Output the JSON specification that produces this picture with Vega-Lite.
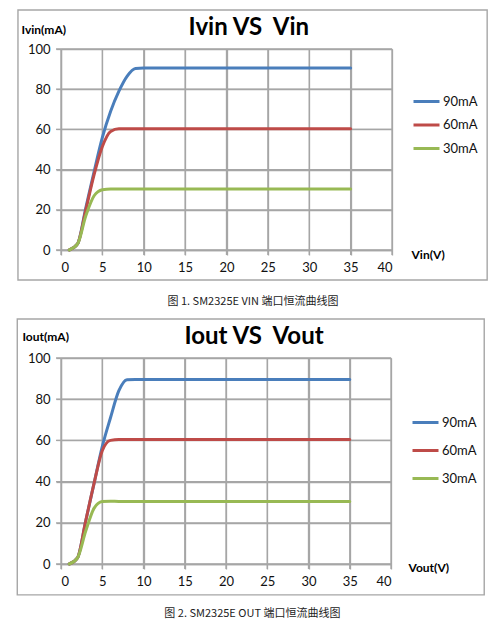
{
  "$schema": "https://vega.github.io/schema/vega-lite/v6.json",
  "padding": {"left": 16, "top": 9, "right": 5, "bottom": 5},
  "spacing": 10,
  "datasets": {
    "gx": [{"v": 0}, {"v": 5}, {"v": 10}, {"v": 15}, {"v": 20}, {"v": 25}, {"v": 30}, {"v": 35}, {"v": 40}],
    "gy": [{"i": 0}, {"i": 20}, {"i": 40}, {"i": 60}, {"i": 80}, {"i": 100}],
    "vin": [
      {"series": "90mA", "v": 1, "i": 0}, {"series": "90mA", "v": 2, "i": 3}, {"series": "90mA", "v": 3, "i": 21},
      {"series": "90mA", "v": 4, "i": 39}, {"series": "90mA", "v": 5, "i": 56}, {"series": "90mA", "v": 6, "i": 69},
      {"series": "90mA", "v": 7, "i": 79}, {"series": "90mA", "v": 8, "i": 86.5}, {"series": "90mA", "v": 9, "i": 90.3},
      {"series": "90mA", "v": 10, "i": 90.5}, {"series": "90mA", "v": 15, "i": 90.5}, {"series": "90mA", "v": 20, "i": 90.5},
      {"series": "90mA", "v": 25, "i": 90.5}, {"series": "90mA", "v": 30, "i": 90.5}, {"series": "90mA", "v": 35, "i": 90.5},
      {"series": "60mA", "v": 1, "i": 0}, {"series": "60mA", "v": 2, "i": 3}, {"series": "60mA", "v": 3, "i": 20},
      {"series": "60mA", "v": 4, "i": 37.5}, {"series": "60mA", "v": 5, "i": 51.5}, {"series": "60mA", "v": 6, "i": 59},
      {"series": "60mA", "v": 7, "i": 60.3}, {"series": "60mA", "v": 8, "i": 60.3}, {"series": "60mA", "v": 10, "i": 60.3},
      {"series": "60mA", "v": 15, "i": 60.3}, {"series": "60mA", "v": 20, "i": 60.3}, {"series": "60mA", "v": 25, "i": 60.3},
      {"series": "60mA", "v": 30, "i": 60.3}, {"series": "60mA", "v": 35, "i": 60.3},
      {"series": "30mA", "v": 1, "i": 0}, {"series": "30mA", "v": 2, "i": 3}, {"series": "30mA", "v": 3, "i": 17},
      {"series": "30mA", "v": 4, "i": 27}, {"series": "30mA", "v": 5, "i": 30}, {"series": "30mA", "v": 6, "i": 30.4},
      {"series": "30mA", "v": 7, "i": 30.4}, {"series": "30mA", "v": 10, "i": 30.4}, {"series": "30mA", "v": 15, "i": 30.4},
      {"series": "30mA", "v": 20, "i": 30.4}, {"series": "30mA", "v": 25, "i": 30.4}, {"series": "30mA", "v": 30, "i": 30.4},
      {"series": "30mA", "v": 35, "i": 30.4}
    ],
    "vout": [
      {"series": "90mA", "v": 1, "i": 0}, {"series": "90mA", "v": 2, "i": 3}, {"series": "90mA", "v": 3, "i": 21},
      {"series": "90mA", "v": 4, "i": 39}, {"series": "90mA", "v": 5, "i": 57}, {"series": "90mA", "v": 6, "i": 71},
      {"series": "90mA", "v": 7, "i": 84}, {"series": "90mA", "v": 8, "i": 89.5}, {"series": "90mA", "v": 9, "i": 89.6},
      {"series": "90mA", "v": 10, "i": 89.6}, {"series": "90mA", "v": 15, "i": 89.6}, {"series": "90mA", "v": 20, "i": 89.6},
      {"series": "90mA", "v": 25, "i": 89.6}, {"series": "90mA", "v": 30, "i": 89.6}, {"series": "90mA", "v": 35, "i": 89.6},
      {"series": "60mA", "v": 1, "i": 0}, {"series": "60mA", "v": 2, "i": 3}, {"series": "60mA", "v": 3, "i": 21},
      {"series": "60mA", "v": 4, "i": 39}, {"series": "60mA", "v": 5, "i": 55}, {"series": "60mA", "v": 6, "i": 60},
      {"series": "60mA", "v": 7, "i": 60.4}, {"series": "60mA", "v": 10, "i": 60.4}, {"series": "60mA", "v": 15, "i": 60.4},
      {"series": "60mA", "v": 20, "i": 60.4}, {"series": "60mA", "v": 25, "i": 60.4}, {"series": "60mA", "v": 30, "i": 60.4},
      {"series": "60mA", "v": 35, "i": 60.4},
      {"series": "30mA", "v": 1, "i": 0}, {"series": "30mA", "v": 2, "i": 3}, {"series": "30mA", "v": 3, "i": 16},
      {"series": "30mA", "v": 4, "i": 27}, {"series": "30mA", "v": 5, "i": 30.3}, {"series": "30mA", "v": 6, "i": 30.5},
      {"series": "30mA", "v": 7, "i": 30.4}, {"series": "30mA", "v": 10, "i": 30.4}, {"series": "30mA", "v": 15, "i": 30.4},
      {"series": "30mA", "v": 20, "i": 30.4}, {"series": "30mA", "v": 25, "i": 30.4}, {"series": "30mA", "v": 30, "i": 30.4},
      {"series": "30mA", "v": 35, "i": 30.4}
    ]
  },
  "vconcat": [
    {
      "width": 331,
      "height": 201,
      "layer": [
        {
          "data": {"name": "gx"},
          "mark": {"type": "rect", "filled": false, "color": "#a6a6a6", "strokeWidth": 1.3},
          "encoding": {
            "x": {"field": "v", "type": "quantitative"},
            "x2": {"field": "v"},
            "y": {"datum": -2.5, "type": "quantitative"},
            "y2": {"datum": 100}
          }
        },
        {
          "data": {"name": "gy"},
          "mark": {"type": "rect", "filled": false, "color": "#a6a6a6", "strokeWidth": 1.3},
          "encoding": {
            "y": {"field": "i", "type": "quantitative"},
            "y2": {"field": "i"},
            "x": {"datum": -0.6, "type": "quantitative"},
            "x2": {"datum": 40}
          }
        },
        {
          "data": {"name": "vin"},
          "mark": {"type": "line", "interpolate": "monotone", "strokeWidth": 3, "strokeCap": "round"},
          "encoding": {
            "x": {
              "field": "v", "type": "quantitative",
              "scale": {"domain": [0, 40]},
              "axis": {"grid": true, "values": [0, 5, 10, 15, 20, 25, 30, 35, 40], "title": "Vin(V)", "titleX": 350, "titleY": 4}
            },
            "y": {
              "field": "i", "type": "quantitative",
              "scale": {"domain": [0, 100]},
              "axis": {"grid": true, "values": [0, 20, 40, 60, 80, 100], "title": "Ivin(mA)", "titleX": -40, "titleY": -20}
            },
            "color": {
              "field": "series", "type": "nominal",
              "scale": {"domain": ["90mA", "60mA", "30mA"], "range": ["#4a7ebb", "#be4b48", "#98b954"]},
              "legend": {"title": null, "orient": "none", "legendX": 351, "legendY": 38, "rowPadding": 1.5}
            }
          }
        },
        {
          "data": {"values": [{}]},
          "mark": {"type": "rect", "filled": false, "color": "#a6a6a6", "strokeWidth": 1.4},
          "encoding": {
            "x": {"datum": -5.2, "type": "quantitative"},
            "x2": {"datum": 51.5},
            "y": {"datum": -14.9, "type": "quantitative"},
            "y2": {"datum": 119.4}
          }
        },
        {
          "data": {"values": [{}]},
          "mark": {"type": "text", "fontSize": 24, "fontWeight": "bold", "color": "#000000"},
          "encoding": {
            "x": {"datum": 22.7, "type": "quantitative"},
            "y": {"datum": 110.4, "type": "quantitative"},
            "text": {"value": "Ivin VS \u00a0Vin"}
          }
        },
        {
          "data": {"values": [{}]},
          "mark": {"type": "text", "font": "Noto Sans CJK SC", "fontSize": 11, "color": "#222222"},
          "encoding": {
            "x": {"datum": 23.2, "type": "quantitative"},
            "y": {"datum": -25.9, "type": "quantitative"},
            "text": {"value": "图 1. SM2325E VIN 端口恒流曲线图"}
          }
        }
      ]
    },
    {
      "width": 330,
      "height": 206,
      "layer": [
        {
          "data": {"name": "gx"},
          "mark": {"type": "rect", "filled": false, "color": "#a6a6a6", "strokeWidth": 1.3},
          "encoding": {
            "x": {"field": "v", "type": "quantitative"},
            "x2": {"field": "v"},
            "y": {"datum": -2.4, "type": "quantitative"},
            "y2": {"datum": 100}
          }
        },
        {
          "data": {"name": "gy"},
          "mark": {"type": "rect", "filled": false, "color": "#a6a6a6", "strokeWidth": 1.3},
          "encoding": {
            "y": {"field": "i", "type": "quantitative"},
            "y2": {"field": "i"},
            "x": {"datum": -0.6, "type": "quantitative"},
            "x2": {"datum": 40}
          }
        },
        {
          "data": {"name": "vout"},
          "mark": {"type": "line", "interpolate": "monotone", "strokeWidth": 3, "strokeCap": "round"},
          "encoding": {
            "x": {
              "field": "v", "type": "quantitative",
              "scale": {"domain": [0, 40]},
              "axis": {"grid": true, "values": [0, 5, 10, 15, 20, 25, 30, 35, 40], "title": "Vout(V)", "titleX": 347, "titleY": 3}
            },
            "y": {
              "field": "i", "type": "quantitative",
              "scale": {"domain": [0, 100]},
              "axis": {"grid": true, "values": [0, 20, 40, 60, 80, 100], "title": "Iout(mA)", "titleX": -39, "titleY": -22}
            },
            "color": {
              "field": "series", "type": "nominal",
              "scale": {"domain": ["90mA", "60mA", "30mA"], "range": ["#4a7ebb", "#be4b48", "#98b954"]},
              "legend": {"title": null, "orient": "none", "legendX": 350, "legendY": 50, "rowPadding": 6}
            }
          }
        },
        {
          "data": {"values": [{}]},
          "mark": {"type": "rect", "filled": false, "color": "#a6a6a6", "strokeWidth": 1.4},
          "encoding": {
            "x": {"datum": -5.3, "type": "quantitative"},
            "x2": {"datum": 51.3},
            "y": {"datum": -15, "type": "quantitative"},
            "y2": {"datum": 118.9}
          }
        },
        {
          "data": {"values": [{}]},
          "mark": {"type": "text", "fontSize": 24, "fontWeight": "bold", "color": "#000000"},
          "encoding": {
            "x": {"datum": 23.4, "type": "quantitative"},
            "y": {"datum": 110.2, "type": "quantitative"},
            "text": {"value": "Iout VS \u00a0Vout"}
          }
        },
        {
          "data": {"values": [{}]},
          "mark": {"type": "text", "font": "Noto Sans CJK SC", "fontSize": 11, "color": "#222222"},
          "encoding": {
            "x": {"datum": 23.2, "type": "quantitative"},
            "y": {"datum": -24.3, "type": "quantitative"},
            "text": {"value": "图 2. SM2325E OUT 端口恒流曲线图"}
          }
        }
      ]
    }
  ],
  "resolve": {"scale": {"color": "independent"}},
  "config": {
    "font": "Lato",
    "view": {"stroke": null},
    "axis": {
      "gridColor": "#a6a6a6",
      "gridWidth": 1.3,
      "gridOpacity": 1,
      "domainColor": "#a6a6a6",
      "domainWidth": 1.3,
      "tickColor": "#a6a6a6",
      "tickWidth": 1.3,
      "tickSize": 5,
      "labelFontSize": 13,
      "labelColor": "#111111",
      "labelPadding": 6,
      "titleFontSize": 12,
      "titleFontWeight": "bold",
      "titleColor": "#000000",
      "titleAngle": 0,
      "titleAlign": "left",
      "titleBaseline": "middle"
    },
    "legend": {
      "symbolType": "stroke",
      "symbolSize": 676,
      "symbolStrokeWidth": 3,
      "labelFontSize": 13,
      "labelColor": "#111111",
      "labelOffset": 2
    }
  }
}
